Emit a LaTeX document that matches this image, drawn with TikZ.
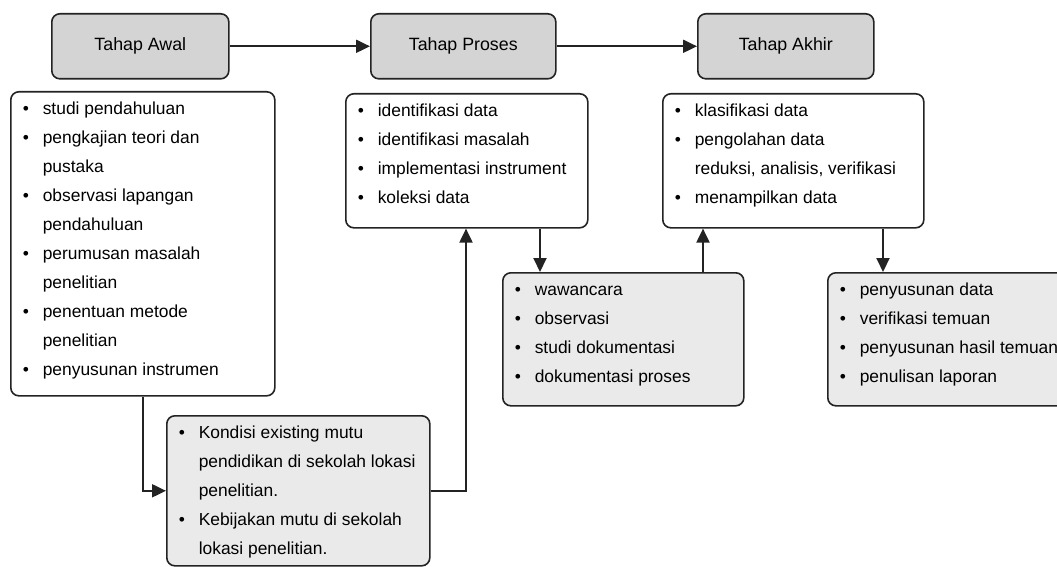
\documentclass[tikz,border=0pt]{standalone}
\usepackage{fontspec}
\setmainfont{Liberation Sans}
\usetikzlibrary{arrows.meta, positioning}
\definecolor{garis}{RGB}{35, 35, 35}
\definecolor{abutua}{RGB}{212, 212, 212}
\definecolor{abumuda}{RGB}{234, 234, 234}
\newcommand{\isi}[3]{\parbox[t][#2][t]{#1}{\fontsize{17.4}{29}\selectfont #3}}
\newcommand{\itm}[1]{\par\noindent\strut\makebox[20pt][l]{\textbullet}\mbox{#1}}
\newcommand{\lanjut}[1]{\par\noindent\strut\hspace*{20pt}\mbox{#1}}
\tikzset{
  tahap/.style={rectangle, rounded corners=8pt, draw=garis, line width=1.6pt,
    fill=abutua, anchor=north west, minimum height=65pt,
    font=\fontsize{17.8}{20}\selectfont},
  daftar/.style={rectangle, rounded corners=8pt, draw=garis, line width=1.6pt,
    fill=white, anchor=north west, inner xsep=12pt, inner ysep=2pt},
  daftarabu/.style={daftar, fill=abumuda},
  panah/.style={-{Triangle[length=14pt,width=13pt]}, draw=garis, line width=2pt}
}

\begin{document}
\begin{tikzpicture}[x=1pt, y=-1pt]
\useasboundingbox (0,0) rectangle (1057,567);

% tahap
\node (awal)   [tahap, minimum width=177pt] at (51,13)  {Tahap Awal};
\node (proses) [tahap, minimum width=185pt] at (370,13) {Tahap Proses};
\node (akhir)  [tahap, minimum width=176pt] at (697,13) {Tahap Akhir};

% isi
\node (awalisi) [daftar] at (10,91) {\isi{240pt}{300pt}{%
  \itm{studi pendahuluan}
  \itm{pengkajian teori dan}
  \lanjut{pustaka}
  \itm{observasi lapangan}
  \lanjut{pendahuluan}
  \itm{perumusan masalah}
  \lanjut{penelitian}
  \itm{penentuan metode}
  \lanjut{penelitian}
  \itm{penyusunan instrumen}}};
\node (kondisi) [daftarabu] at (166,415) {\isi{239pt}{146pt}{%
  \itm{Kondisi existing mutu}
  \lanjut{pendidikan di sekolah lokasi}
  \lanjut{penelitian.}
  \itm{Kebijakan mutu di sekolah}
  \lanjut{lokasi penelitian.}}};
\node (prosesisi) [daftar] at (345,93) {\isi{218pt}{130pt}{%
  \itm{identifikasi data}
  \itm{identifikasi masalah}
  \itm{implementasi instrument}
  \itm{koleksi data}}};
\node (metode) [daftarabu] at (502,272) {\isi{217pt}{129pt}{%
  \itm{wawancara}
  \itm{observasi}
  \itm{studi dokumentasi}
  \itm{dokumentasi proses}}};
\node (akhirisi) [daftar] at (662,93) {\isi{237pt}{130pt}{%
  \itm{klasifikasi data}
  \itm{pengolahan data}
  \lanjut{reduksi, analisis, verifikasi}
  \itm{menampilkan data}}};
\node (hasil) [daftarabu] at (827,272) {\isi{226pt}{129pt}{%
  \itm{penyusunan data}
  \itm{verifikasi temuan}
  \itm{penyusunan hasil temuan}
  \itm{penulisan laporan}}};

% alur
\draw[panah] (awal) -- (proses);
\draw[panah] (proses) -- (akhir);
\coordinate (a1) at ([xshift=133pt]awalisi.south west);
\draw[panah] (a1) |- (kondisi.west);
\coordinate (a2) at ([xshift=121pt]prosesisi.south west);
\draw[panah] (kondisi.east) -| (a2);
\coordinate (a3) at ([xshift=195pt]prosesisi.south west);
\draw[panah] (a3) -- (a3 |- metode.north);
\coordinate (a4) at ([xshift=201pt]metode.north west);
\draw[panah] (a4) -- (a4 |- akhirisi.south);
\coordinate (a5) at ([xshift=221pt]akhirisi.south west);
\draw[panah] (a5) -- (a5 |- hasil.north);
\end{tikzpicture}
\end{document}
